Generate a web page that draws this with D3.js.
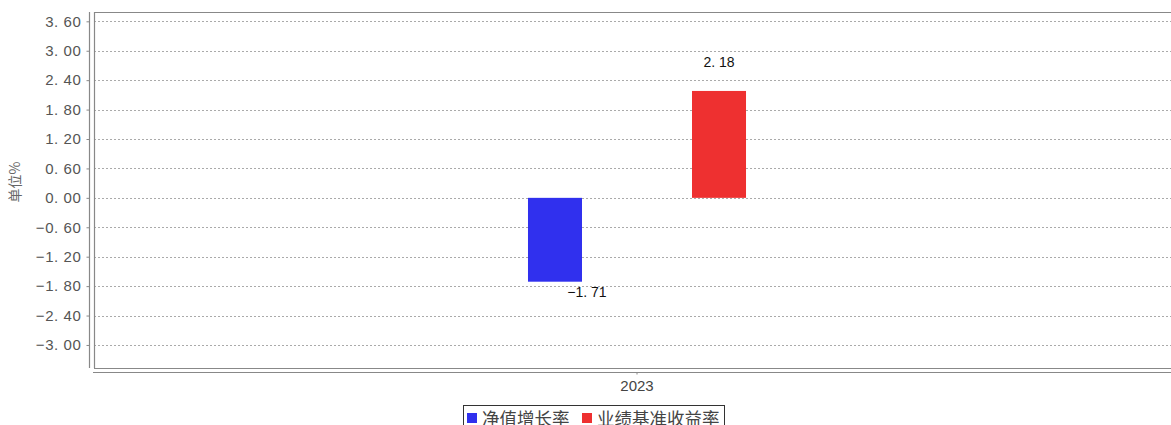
<!DOCTYPE html>
<html>
<head>
<meta charset="utf-8">
<script src="https://cdn.jsdelivr.net/npm/d3@7"></script>
<style>
  html, body { margin: 0; padding: 0; background: #fff; }
  svg { display: block; }
</style>
</head>
<body>
<svg id="chart" width="1171" height="425"></svg>
<script>
// ---- data ----
const categories = ["2023"];
const seriesNames = ["净值增长率", "业绩基准收益率"];
const seriesColors = ["#3030ee", "#ee3030"];
const navGrowth = [-1.71];
const benchmarkReturn = [2.18];
const yTicks = [3.6, 3.0, 2.4, 1.8, 1.2, 0.6, 0, -0.6, -1.2, -1.8, -2.4, -3.0];
const yLabel = "单位%";

const seriesValues = [navGrowth, benchmarkReturn];

const svg = d3.select("#chart");
const W = 1171, H = 425;
const plot = { left: 94, right: 1180, top: 12, bottom: 368 };

const y = d3.scaleLinear().domain([-3.47, 3.79]).range([plot.bottom, plot.top]);
const x0 = d3.scaleBand().domain(categories).range([plot.left, plot.right]).padding(0);
const x1 = d3.scaleBand().domain(seriesNames).range([0, x0.bandwidth()])
  .paddingInner(0.6707).paddingOuter(2.646);

const fmt = d3.format(".2f");

// gridlines
svg.append("g").selectAll("line").data(yTicks).join("line")
  .attr("x1", plot.left).attr("x2", W)
  .attr("y1", d => Math.round(y(d)) + 0.5).attr("y2", d => Math.round(y(d)) + 0.5)
  .attr("stroke", "#aaa").attr("stroke-width", 1).attr("stroke-dasharray", "2,2");

// plot border
svg.append("line").attr("x1", plot.left).attr("x2", W).attr("y1", plot.top + 0.5).attr("y2", plot.top + 0.5)
  .attr("stroke", "#888").attr("stroke-width", 1.2);
svg.append("line").attr("x1", plot.left + 0.5).attr("x2", plot.left + 0.5).attr("y1", plot.top).attr("y2", plot.bottom)
  .attr("stroke", "#888").attr("stroke-width", 1.2);
svg.append("line").attr("x1", plot.left).attr("x2", W).attr("y1", plot.bottom + 0.5).attr("y2", plot.bottom + 0.5)
  .attr("stroke", "#888").attr("stroke-width", 1.2);

// y axis
const yAxis = d3.axisLeft(y).tickValues(yTicks).tickSize(3).tickPadding(5)
  .tickFormat(d => fmt(d).replace(".", ". "));
const gy = svg.append("g").attr("transform", "translate(89.5,0)").call(yAxis);
gy.select(".domain").attr("stroke", "#888").attr("stroke-width", 1.2)
  .attr("d", `M0,${plot.top}V${plot.bottom}`);
gy.selectAll(".tick line").attr("stroke", "#888");
gy.selectAll(".tick text").attr("fill", "#555").attr("font-size", "15px")
  .attr("letter-spacing", "0.6px")
  .attr("font-family", "'Liberation Sans', Arial, sans-serif").style("white-space", "pre");

// x axis
const xAxis = d3.axisBottom(x0).tickSize(2).tickPadding(6);
const gx = svg.append("g").attr("transform", "translate(0,372.5)").call(xAxis);
gx.select(".domain").attr("stroke", "#888").attr("stroke-width", 1.2)
  .attr("d", `M93,0H${W}`);
gx.selectAll(".tick line").attr("stroke", "#888");
gx.selectAll(".tick text").attr("fill", "#444").attr("font-size", "15px")
  .attr("font-family", "'Liberation Sans', Arial, sans-serif");

// y label
svg.append("text").attr("transform", "translate(20,182) rotate(-90)")
  .attr("text-anchor", "middle").attr("fill", "#666").attr("font-size", "14px")
  .attr("font-family", "'Noto Sans CJK SC', sans-serif").text(yLabel);

// bars
const barData = [];
categories.forEach((c, ci) => {
  seriesNames.forEach((s, si) => {
    barData.push({ cat: c, series: s, value: seriesValues[si][ci], color: seriesColors[si] });
  });
});
const g = svg.append("g");
g.selectAll("rect").data(barData).join("rect")
  .attr("x", d => x0(d.cat) + x1(d.series))
  .attr("width", x1.bandwidth())
  .attr("y", d => y(Math.max(0, d.value)))
  .attr("height", d => Math.abs(y(d.value) - y(0)))
  .attr("fill", d => d.color);

g.selectAll("text").data(barData).join("text")
  .attr("x", d => x0(d.cat) + x1(d.series) + x1.bandwidth() / 2 + (d.value < 0 ? 32 : 0))
  .attr("y", d => d.value < 0 ? y(d.value) + 15 : y(d.value) - 24)
  .attr("text-anchor", "middle").attr("fill", "#111").attr("font-size", "14px")
  .attr("font-family", "'Liberation Sans', Arial, sans-serif")
  .style("white-space", "pre")
  .text(d => fmt(d.value).replace(".", ". "));

// legend
const lg = svg.append("g");
lg.append("rect").attr("x", 463.5).attr("y", 405.5).attr("width", 261).attr("height", 30)
  .attr("fill", "#fff").attr("stroke", "#333").attr("stroke-width", 1);
const legendX = [467, 582];
seriesNames.forEach((s, i) => {
  lg.append("rect").attr("x", legendX[i]).attr("y", 413).attr("width", 10).attr("height", 10)
    .attr("fill", seriesColors[i]);
  lg.append("text").attr("x", legendX[i] + 15).attr("y", 425)
    .attr("fill", "#444").attr("font-size", "17.5px")
    .attr("font-family", "'Noto Sans CJK SC', sans-serif").text(s);
});
</script>
</body>
</html>
